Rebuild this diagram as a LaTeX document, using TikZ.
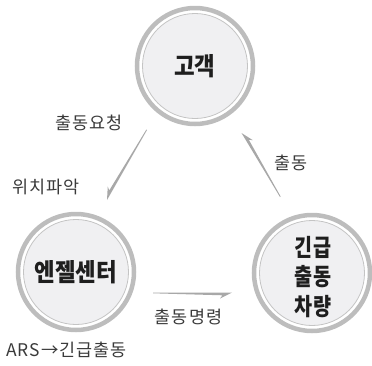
\documentclass[tikz,border=0pt]{standalone}
\usepackage{fontspec}
\newfontfamily\krr[LetterSpace=6]{Noto Sans CJK KR}
\newfontfamily\krb[FakeStretch=0.9]{Noto Sans CJK KR}
\newfontfamily\krc[FakeStretch=0.82]{Noto Sans CJK KR}
\usetikzlibrary{calc}
\definecolor{ringgray}{HTML}{BDBDBD}
\definecolor{hubfill}{HTML}{F0F0F2}
\definecolor{hubline}{HTML}{C4C4C4}
\definecolor{arrowgray}{HTML}{A8A8A8}
\definecolor{txt}{HTML}{1E1E1E}
\definecolor{lbltxt}{HTML}{3A3A3A}
\tikzset{
  hub/.style={circle, draw=ringgray, line width=4.5bp, fill=white,
    minimum size=116bp, inner sep=0pt, text=txt, align=center,
    font=\krb\bfseries\fontsize{25}{29}\selectfont,
    path picture={\fill[hubfill, draw=hubline, line width=0.8bp]
      (path picture bounding box.center) circle[radius=52.5bp];}},
  lbl/.style={text=lbltxt, font=\krr\fontsize{17.5}{20}\selectfont, inner sep=0pt},
  wedge/.style={fill=arrowgray, draw=none},
}
\newcommand\wedgearrow[2]{%
  \coordinate (#1-hb) at ($(#2)!12bp!(#1)$);
  \coordinate (#1-nb) at ($(#2)!9.5bp!(#1)$);
  \fill[wedge] (#1) -- (#2) -- ($(#1-hb)!6bp!-90:(#2)$)
    -- ($(#1-nb)!2.8bp!-90:(#2)$) -- ($(#1)!0.8bp!-90:(#2)$) -- cycle;}
\begin{document}
\begin{tikzpicture}[x=1bp, y=-1bp]
\useasboundingbox (0,0) rectangle (372,366);
\node[hub] (kh) at (195,66) {고객};
\node[hub] (ac) at (76,272) {엔젤센터};
\node[hub] (ev) at (312,273) {};
\node[font=\krc\bfseries\fontsize{24}{30}\selectfont, text=txt, align=center, inner sep=0pt] (evt) at (313,277) {긴급\\출동\\차량};
\node[lbl] (l1) at (89,123) {출동요청};
\node[lbl] (l2) at (46,187) {위치파악};
\node[lbl] (l3) at (188.5,317) {출동명령};
\node[lbl] (l4) at (66.5,350) {ARS→긴급출동};
\node[lbl] (l5) at (291,163) {출동};
\coordinate (a1s) at (147,130);
\coordinate (a1t) at (107,200);
\coordinate (a2s) at (153,292.5);
\coordinate (a2t) at (232,292.5);
\coordinate (a3s) at (280,197);
\coordinate (a3t) at (241.5,133);
\wedgearrow{a1s}{a1t}
\wedgearrow{a2s}{a2t}
\wedgearrow{a3s}{a3t}
\end{tikzpicture}
\end{document}
